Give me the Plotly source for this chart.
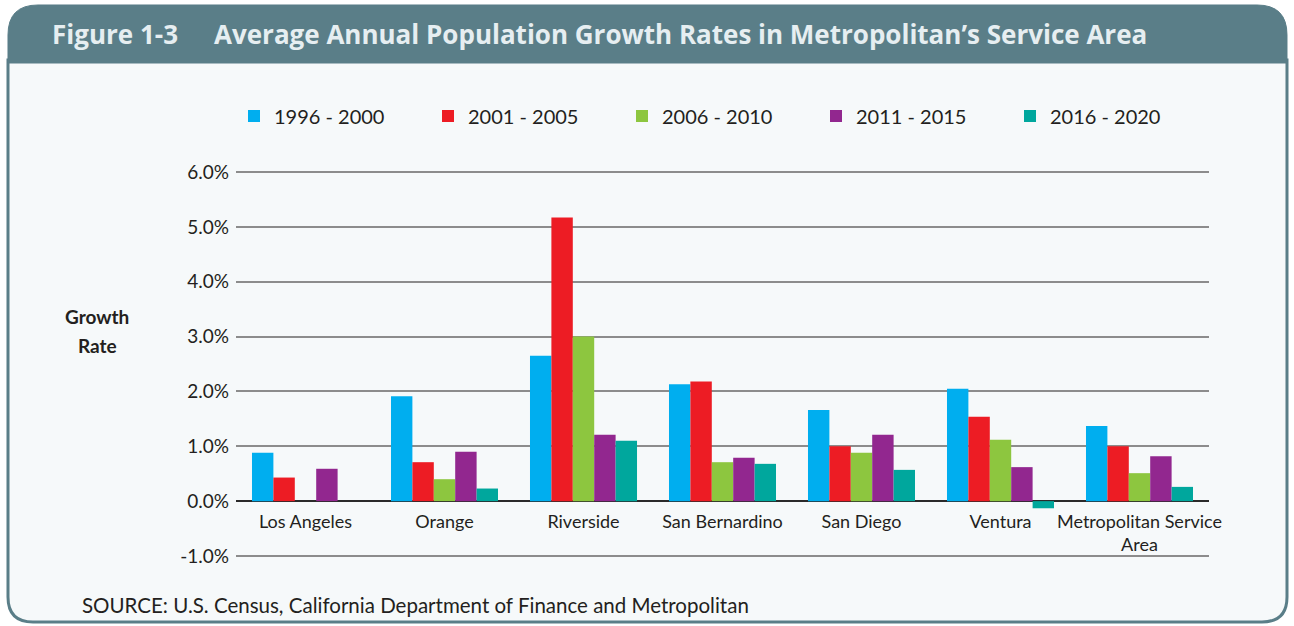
import plotly.graph_objects as go

# Average annual growth rates (%) by county and five-year period
categories = ["Los Angeles", "Orange", "Riverside", "San Bernardino",
              "San Diego", "Ventura", "Metropolitan Service<br>Area"]
periods = ["1996 - 2000", "2001 - 2005", "2006 - 2010", "2011 - 2015", "2016 - 2020"]
rate_1996_2000 = [0.88, 1.91, 2.65, 2.13, 1.66, 2.05, 1.37]
rate_2001_2005 = [0.43, 0.71, 5.17, 2.18, 1.00, 1.54, 1.00]
rate_2006_2010 = [None, 0.40, 3.00, 0.71, 0.88, 1.12, 0.51]
rate_2011_2015 = [0.59, 0.90, 1.21, 0.79, 1.21, 0.62, 0.82]
rate_2016_2020 = [None, 0.23, 1.10, 0.68, 0.57, -0.13, 0.26]
series = [rate_1996_2000, rate_2001_2005, rate_2006_2010, rate_2011_2015, rate_2016_2020]
colors = ["#00aeef", "#ed1c24", "#8dc63f", "#92278f", "#00a79d"]
y_tick_values = [-1, 0, 1, 2, 3, 4, 5, 6]
y_tick_labels = ["-1.0%", "0.0%", "1.0%", "2.0%", "3.0%", "4.0%", "5.0%", "6.0%"]

W, H = 1294, 626
UNIT = 54.857                              # pixels per percentage point
PAD = 2                                    # keeps the outer gridlines inside the plot
L, R = 236, 1209
T, B = 172 - PAD, 556 + PAD
Y_RANGE = [-1 - PAD / UNIT, 6 + PAD / UNIT]
FRAME = "#5a7e88"
FONT = "Lato"
INK = "#231f20"


def px(x):
    return (x - L) / (R - L)


def py(y):
    return (B - y) / (B - T)


def path(points):
    out = []
    for cmd, *pts in points:
        coords = " ".join(f"{px(a):.5f},{py(b):.5f}" for a, b in zip(pts[::2], pts[1::2]))
        out.append(f"{cmd} {coords}" if coords else cmd)
    return " ".join(out)


fig = go.Figure()
for name, vals, col in zip(periods, series, colors):
    fig.add_trace(go.Bar(x=categories, y=vals, name=name, marker_color=col,
                         marker_line_width=0))

# light panel with rounded frame, and the header band on top
panel = path([("M", 8, 60), ("L", 8, 597), ("Q", 8, 622, 33, 622), ("L", 1262, 622),
              ("Q", 1287, 622, 1287, 597), ("L", 1287, 60), ("Z",)])
header = path([("M", 8, 63), ("L", 8, 35), ("Q", 8, 5, 38, 5), ("L", 1257, 5),
               ("Q", 1287, 5, 1287, 35), ("L", 1287, 63), ("Z",)])
fig.add_shape(type="path", path=panel, xref="paper", yref="paper", layer="below",
              fillcolor="#f6f9fa", line=dict(color=FRAME, width=3))
fig.add_shape(type="path", path=header, xref="paper", yref="paper", layer="below",
              fillcolor=FRAME, line=dict(color=FRAME, width=1))

title_font = dict(family="Open Sans", size=26, color="#e6eef1", weight="bold")
fig.add_annotation(text="Figure 1-3", x=px(50), y=py(34), xref="paper", yref="paper",
                   xanchor="left", yanchor="middle", showarrow=False, font=title_font)
fig.add_annotation(text="Average Annual Population Growth Rates in Metropolitan\u2019s Service Area",
                   x=px(212), y=py(34), xref="paper", yref="paper",
                   xanchor="left", yanchor="middle", showarrow=False, font=title_font)

label_font = dict(family=FONT, size=19, color=INK, weight="bold")
for word, yy in (("Growth", 316), ("Rate", 345)):
    fig.add_annotation(text=word, x=px(97), y=py(yy), xref="paper", yref="paper",
                       xanchor="center", yanchor="middle", showarrow=False, font=label_font)
fig.add_annotation(text="SOURCE: U.S. Census, California Department of Finance and Metropolitan",
                   x=px(80), y=py(605), xref="paper", yref="paper",
                   xanchor="left", yanchor="middle", showarrow=False,
                   font=dict(family=FONT, size=20.5, color=INK))

fig.update_layout(
    width=W, height=H,
    margin=dict(l=L, r=W - R, t=T, b=H - B, pad=0),
    paper_bgcolor="white", plot_bgcolor="rgba(0,0,0,0)",
    barmode="group", bargap=0.23, bargroupgap=0,
    font=dict(family=FONT, color=INK),
    legend=dict(orientation="h", x=px(234), y=py(116), xanchor="left", yanchor="middle",
                entrywidth=149, entrywidthmode="pixels", bgcolor="rgba(0,0,0,0)",
                font=dict(family=FONT, size=20, color=INK), traceorder="normal"),
    showlegend=True,
)
fig.update_yaxes(range=Y_RANGE, tickmode="array", tickvals=y_tick_values,
                 ticktext=y_tick_labels,
                 showgrid=True, gridcolor="#8c8c8c", gridwidth=1.5,
                 zeroline=True, zerolinecolor="#2a2a2a", zerolinewidth=2,
                 showline=False, ticks="", ticklabelstandoff=6,
                 tickfont=dict(family=FONT, size=19, color=INK))
fig.update_xaxes(type="category", anchor="free", position=py(502), showgrid=False,
                 showline=False, ticks="", ticklabelstandoff=7,
                 tickfont=dict(family=FONT, size=18, color=INK))

fig.write_html("out.html")
